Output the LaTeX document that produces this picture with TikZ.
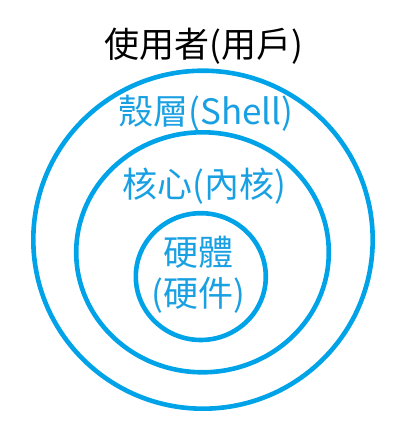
\documentclass[tikz,border=0pt]{standalone}
\usepackage{fontspec}
\setmainfont{Noto Sans CJK TC}
\definecolor{ringblue}{RGB}{0,163,232}
\definecolor{txtblue}{RGB}{25,160,226}
\begin{document}
\begin{tikzpicture}[x=1pt,y=1pt,
  ring/.style={draw=ringblue,line width=4.6pt},
  lbl/.style={inner sep=0pt,anchor=base,font=\fontsize{35pt}{42pt}\selectfont},
  blbl/.style={lbl,text=txtblue}]
\useasboundingbox (0,0) rectangle (409,426);
\draw[ring] (203,186.3) ellipse [x radius=169.7,y radius=169];
\draw[ring] (202.5,173.7) ellipse [x radius=126.3,y radius=120];
\draw[ring] (200.8,149.4) ellipse [x radius=65,y radius=63.4];
\node[lbl] (user) at (204,368.7) {使用者(用戶)};
\node[blbl] (shell) at (206,301.7) {殼層(Shell)};
\node[blbl] (kernel) at (204,228.7) {核心(內核)};
\node[blbl] (hw1) at (198,160.7) {硬體};
\node[blbl] (hw2) at (198.5,119.7) {(硬件)};
\end{tikzpicture}
\end{document}
